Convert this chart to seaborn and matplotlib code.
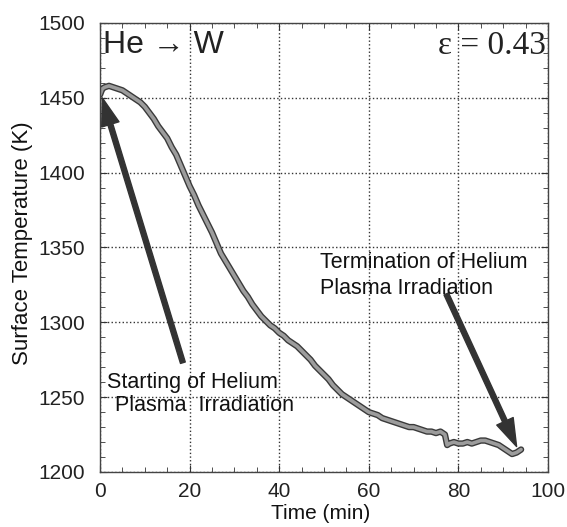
import numpy as np
import pandas as pd
import matplotlib
matplotlib.use("Agg")
import matplotlib.pyplot as plt
import seaborn as sns

# surface temperature
time_min = [0, 0.5, 1, 2, 3, 4, 5, 6, 7, 8, 9, 10, 11, 12, 13, 14, 15, 16, 17, 18,
            19, 20, 21, 22, 23, 24, 25, 26, 27, 28, 29, 30, 31, 32, 33, 34, 35, 36,
            37, 38, 39, 40, 41, 42, 43, 44, 45, 46, 47, 48, 49, 50, 51, 52, 53, 54,
            55, 56, 57, 58, 59, 60, 61, 62, 63, 64, 65, 66, 67, 68, 69, 70, 71, 72,
            73, 74, 75, 76, 77, 77.5, 78, 79, 80, 81, 82, 83, 84, 85, 86, 87, 88,
            89, 90, 91, 92, 93, 94]
temp_k = [1452, 1456, 1457, 1458, 1457, 1456, 1455, 1453, 1451, 1449, 1447, 1444,
          1440, 1436, 1431, 1427, 1423, 1417, 1412, 1405, 1398, 1391, 1385, 1378,
          1372, 1366, 1360, 1353, 1346, 1341, 1336, 1331, 1326, 1321, 1317, 1312,
          1308, 1304, 1301, 1298, 1296, 1293, 1291, 1288, 1286, 1284, 1281, 1278,
          1275, 1271, 1268, 1265, 1262, 1258, 1255, 1252, 1250, 1248, 1246, 1244,
          1242, 1240, 1239, 1238, 1236, 1235, 1234, 1233, 1232, 1231, 1230, 1230,
          1229, 1228, 1227, 1227, 1226, 1227, 1225, 1218, 1219, 1220, 1219, 1219,
          1220, 1219, 1220, 1221, 1221, 1220, 1219, 1218, 1216, 1214, 1212, 1213,
          1215]

x_ticks = [0, 20, 40, 60, 80, 100]
y_ticks = [1200, 1250, 1300, 1350, 1400, 1450, 1500]

# arrows: (tail, tip)
start_arrow = ((18.5, 1273), (0.5, 1450))
end_arrow = ((77.3, 1319), (93.0, 1217))

df = pd.DataFrame({"Time": time_min, "Temp": temp_k})

sns.set_style("ticks")
plt.rcParams['font.family'] = ['Liberation Sans', 'DejaVu Sans']

fig = plt.figure(figsize=(5.67, 5.27), dpi=100)
ax = fig.add_axes([0.1764, 0.1044, 0.790, 0.852])

sns.lineplot(data=df, x="Time", y="Temp", ax=ax, color='#3a3a3a', linewidth=4.6)
sns.lineplot(data=df, x="Time", y="Temp", ax=ax, color='#9c9c9c', linewidth=2.6)

ax.set_xlim(0, 100)
ax.set_ylim(1200, 1500)
ax.set_xticks(x_ticks)
ax.set_yticks(y_ticks)
ax.set_xticks(np.arange(0, 101, 5), minor=True)
ax.set_yticks(np.arange(1200, 1501, 10), minor=True)
ax.grid(True, which='major', linestyle=':', color='#333333', linewidth=1.0)
ax.tick_params(which='both', direction='in', top=True, right=True, colors='#333333',
               labelcolor='#222222')
ax.tick_params(which='major', length=5, labelsize=15)
ax.tick_params(which='minor', length=3.5)
ax.tick_params(axis='x', pad=7)
ax.tick_params(axis='y', pad=11)
for s in ax.spines.values():
    s.set_color('#444444')
    s.set_linewidth(1.0)

ax.set_xlabel("Time (min)", fontsize=15, color='#111111', va='center')
ax.set_ylabel("Surface Temperature (K)", fontsize=16, color='#111111', va='center')
ax.xaxis.set_label_coords(0.493, -0.092)
ax.yaxis.set_label_coords(-0.174, 0.51)

arrow_style = dict(facecolor='#333333', edgecolor='#333333', width=3.6,
                   headwidth=13, headlength=20, shrink=0)
ax.annotate("", xy=start_arrow[1], xytext=start_arrow[0], arrowprops=arrow_style)
ax.annotate("", xy=end_arrow[1], xytext=end_arrow[0], arrowprops=arrow_style)

ax.text(1.6, 1259.5, "Starting of Helium", fontsize=15.5, ha='left', va='center', color='#111111')
ax.text(3.3, 1244.5, "Plasma  Irradiation", fontsize=15.5, ha='left', va='center', color='#111111')
ax.text(49, 1340, "Termination of Helium", fontsize=15.5, ha='left', va='center', color='#111111')
ax.text(49, 1322.5, "Plasma Irradiation", fontsize=15.5, ha='left', va='center', color='#111111')

ax.text(0.7, 1485, "He \u2192 W", fontsize=23, ha='left', va='center', color='#222222')
ax.text(99.6, 1485, "\u03b5 = 0.43", fontsize=24, ha='right', va='center', color='#222222',
        family=['Liberation Serif', 'DejaVu Serif'])

fig.savefig("out.png", dpi=100)
